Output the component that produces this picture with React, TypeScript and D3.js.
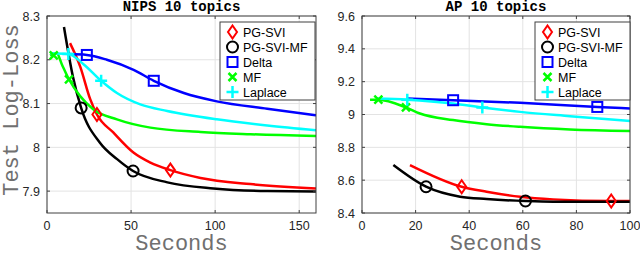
import React from 'react'
import * as d3 from 'd3'

type Pt = [number, number]

// NIPS 10 topics (seconds, test log-loss)
const nipsPgSvi: Pt[] = [[13.7, 8.238], [19.7, 8.185], [25.7, 8.11], [29.7, 8.075], [39.4, 8.034], [51.4, 7.988], [61.5, 7.965], [73.4, 7.948], [91.3, 7.93], [121, 7.916], [160, 7.906]]
const nipsPgSviMf: Pt[] = [[10.1, 8.275], [15.5, 8.16], [20.3, 8.09], [31.6, 8.01], [41.7, 7.973], [51.2, 7.946], [71.6, 7.92], [99, 7.906], [131, 7.9], [160, 7.899]]
const nipsDelta: Pt[] = [[13, 8.213], [23.7, 8.211], [35.6, 8.2], [51.5, 8.177], [63.5, 8.152], [81.4, 8.124], [101, 8.105], [131, 8.088], [160, 8.073]]
const nipsMf: Pt[] = [[1.8, 8.21], [5.8, 8.215], [8.8, 8.19], [13.1, 8.155], [19.7, 8.117], [27.5, 8.087], [41.6, 8.064], [61.5, 8.045], [91.3, 8.035], [121, 8.03], [160, 8.026]]
const nipsLaplace: Pt[] = [[1.8, 8.215], [12.7, 8.213], [21.7, 8.19], [32.2, 8.152], [41.6, 8.124], [55.5, 8.098], [71.5, 8.083], [101, 8.064], [131, 8.05], [160, 8.039]]

const nipsPgSviMarks: Pt[] = [[29.7, 8.075], [73.4, 7.948]]
const nipsPgSviMfMarks: Pt[] = [[20.3, 8.09], [51.2, 7.946]]
const nipsDeltaMarks: Pt[] = [[23.7, 8.211], [63.5, 8.152]]
const nipsMfMarks: Pt[] = [[4, 8.21], [13.1, 8.155]]
const nipsLaplaceMarks: Pt[] = [[12.7, 8.213], [32.2, 8.152]]

// AP 10 topics
const apPgSvi: Pt[] = [[17.9, 8.692], [37.2, 8.56], [46.5, 8.53], [59, 8.499], [71.3, 8.483], [93, 8.473], [100, 8.473]]
const apPgSviMf: Pt[] = [[11.7, 8.692], [23.9, 8.56], [36.6, 8.499], [46.5, 8.485], [61, 8.473], [71.3, 8.469], [100, 8.469]]
const apDelta: Pt[] = [[16.8, 9.097], [34, 9.087], [59, 9.071], [87.8, 9.046], [100, 9.037]]
const apMf: Pt[] = [[3, 9.09], [6.1, 9.09], [16.4, 9.043], [21.6, 9.006], [34, 8.966], [46.5, 8.941], [59, 8.925], [77.6, 8.909], [100, 8.9]]
const apLaplace: Pt[] = [[5.5, 9.097], [16.9, 9.09], [34, 9.067], [44.9, 9.043], [59, 9.016], [77.6, 8.99], [100, 8.961]]

const apPgSviMarks: Pt[] = [[37.2, 8.56], [93, 8.473]]
const apPgSviMfMarks: Pt[] = [[23.9, 8.56], [61, 8.473]]
const apDeltaMarks: Pt[] = [[34, 9.087], [87.8, 9.046]]
const apMfMarks: Pt[] = [[6.1, 9.09], [16.4, 9.043]]
const apLaplaceMarks: Pt[] = [[16.9, 9.09], [44.9, 9.043]]

const seriesNames = ['PG-SVI', 'PG-SVI-MF', 'Delta', 'MF', 'Laplace']
const seriesColors = ['#ff0000', '#000000', '#0000ff', '#00ff00', '#00ffff']
const seriesShapes = ['diamond', 'circle', 'square', 'x', 'plus']

const nipsXTicks = [0, 50, 100, 150]
const nipsYTicks = [7.9, 8, 8.1, 8.2, 8.3]
const apXTicks = [0, 20, 40, 60, 80, 100]
const apYTicks = [8.4, 8.6, 8.8, 9, 9.2, 9.4, 9.6]

const monoFont = 'Liberation Mono, Courier New, monospace'
const sansFont = 'Liberation Sans, Arial, sans-serif'

const Marker = ({ shape, x, y, color }: { shape: string; x: number; y: number; color: string }) => {
  const s = 5
  const common = { fill: 'none', stroke: color, strokeWidth: 2 }
  if (shape === 'diamond') return <path d={`M${x},${y - 6.5}L${x + 4.5},${y}L${x},${y + 6.5}L${x - 4.5},${y}Z`} {...common} />
  if (shape === 'circle') return <circle cx={x} cy={y} r={5.5} {...common} />
  if (shape === 'square') return <rect x={x - s} y={y - s} width={2 * s} height={2 * s} {...common} />
  if (shape === 'x') return <path d={`M${x - 4},${y - 4}L${x + 4},${y + 4}M${x - 4},${y + 4}L${x + 4},${y - 4}`} {...common} strokeWidth={2.5} />
  return <path d={`M${x - 6},${y}L${x + 6},${y}M${x},${y - 6}L${x},${y + 6}`} {...common} strokeWidth={2.5} />
}

interface PanelProps {
  id: string
  title: string
  left: number
  right: number
  xDomain: [number, number]
  yDomain: [number, number]
  xTicks: number[]
  yTicks: number[]
  lines: Pt[][]
  marks: Pt[][]
  legendX: number
}

const Panel = ({ id, title, left, right, xDomain, yDomain, xTicks, yTicks, lines, marks, legendX }: PanelProps) => {
  const top = 16
  const bottom = 213
  const x = d3.scaleLinear().domain(xDomain).range([left, right])
  const y = d3.scaleLinear().domain(yDomain).range([bottom, top])
  const line = d3.line<Pt>().x(d => x(d[0])).y(d => y(d[1])).curve(d3.curveMonotoneX)
  const cx = (left + right) / 2
  const axisColor = '#404040'
  const tickFont = { fontFamily: sansFont, fontSize: 12.5, fill: '#262626' }
  const legendTop = 22
  const legendW = 95
  const legendH = 78

  return (
    <g>
      <defs>
        <clipPath id={`clip-${id}`}>
          <rect x={left} y={top} width={right - left} height={bottom - top} />
        </clipPath>
      </defs>
      <rect x={left} y={top} width={right - left} height={bottom - top} fill="#fff" />
      {xTicks.map(t => (
        <line key={`gx${t}`} x1={x(t)} x2={x(t)} y1={top} y2={bottom} stroke="#e3e3e3" strokeWidth={1} />
      ))}
      {yTicks.map(t => (
        <line key={`gy${t}`} x1={left} x2={right} y1={y(t)} y2={y(t)} stroke="#e3e3e3" strokeWidth={1} />
      ))}
      <g clipPath={`url(#clip-${id})`}>
        {lines.map((pts, i) => (
          <path key={`l${i}`} d={line(pts) ?? ''} fill="none" stroke={seriesColors[i]} strokeWidth={2.5} />
        ))}
        {marks.map((pts, i) =>
          pts.map((p, j) => <Marker key={`m${i}-${j}`} shape={seriesShapes[i]} x={x(p[0])} y={y(p[1])} color={seriesColors[i]} />)
        )}
      </g>
      <rect x={left} y={top} width={right - left} height={bottom - top} fill="none" stroke={axisColor} strokeWidth={1} />
      {xTicks.map(t => (
        <g key={`tx${t}`}>
          <line x1={x(t)} x2={x(t)} y1={bottom} y2={bottom - 3} stroke={axisColor} />
          <line x1={x(t)} x2={x(t)} y1={top} y2={top + 3} stroke={axisColor} />
          <text x={x(t)} y={230} textAnchor="middle" {...tickFont}>{t}</text>
        </g>
      ))}
      {yTicks.map(t => (
        <g key={`ty${t}`}>
          <line x1={left} x2={left + 3} y1={y(t)} y2={y(t)} stroke={axisColor} />
          <line x1={right} x2={right - 3} y1={y(t)} y2={y(t)} stroke={axisColor} />
          <text x={left - 7} y={y(t) + 4.5} textAnchor="end" {...tickFont}>{d3.format('~g')(t)}</text>
        </g>
      ))}
      <text x={cx} y={11} textAnchor="middle" fontFamily={monoFont} fontWeight="bold" fontSize={14} fill="#000">{title}</text>
      <text x={cx} y={250} textAnchor="middle" fontFamily={monoFont} fontSize={22} fill="#707070">Seconds</text>

      <rect x={legendX} y={legendTop} width={legendW} height={legendH} fill="#fff" stroke={axisColor} strokeWidth={1} />
      {seriesNames.map((name, i) => {
        const ly = legendTop + 10 + i * 15
        return (
          <g key={name}>
            <Marker shape={seriesShapes[i]} x={legendX + 12.5} y={ly} color={seriesColors[i]} />
            <text x={legendX + 23} y={ly + 4.5} fontFamily={sansFont} fontSize={12.5} fill="#000">{name}</text>
          </g>
        )
      })}
    </g>
  )
}

export default function App() {
  return (
    <svg width={640} height={258} style={{ position: 'absolute', left: 0, top: 0, background: '#fff' }}>
      <rect width={640} height={258} fill="#fff" />
      <text transform="translate(18,110) rotate(-90)" textAnchor="middle" fontFamily={monoFont} fontSize={22} fill="#707070">Test Log-Loss</text>
      <Panel
        id="nips"
        title="NIPS 10 topics"
        left={47}
        right={316}
        xDomain={[0, 160]}
        yDomain={[7.85, 8.3]}
        xTicks={nipsXTicks}
        yTicks={nipsYTicks}
        lines={[nipsPgSvi, nipsPgSviMf, nipsDelta, nipsMf, nipsLaplace]}
        marks={[nipsPgSviMarks, nipsPgSviMfMarks, nipsDeltaMarks, nipsMfMarks, nipsLaplaceMarks]}
        legendX={220}
      />
      <Panel
        id="ap"
        title="AP 10 topics"
        left={362}
        right={630}
        xDomain={[0, 100]}
        yDomain={[8.4, 9.6]}
        xTicks={apXTicks}
        yTicks={apYTicks}
        lines={[apPgSvi, apPgSviMf, apDelta, apMf, apLaplace]}
        marks={[apPgSviMarks, apPgSviMfMarks, apDeltaMarks, apMfMarks, apLaplaceMarks]}
        legendX={535}
      />
    </svg>
  )
}
